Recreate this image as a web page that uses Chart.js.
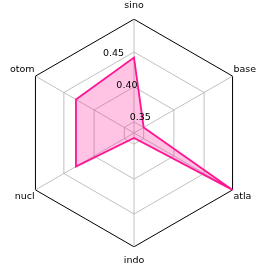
<!DOCTYPE html>
<html>
<head>
<meta charset="utf-8">
<script src="https://cdn.jsdelivr.net/npm/chart.js@4/dist/chart.umd.min.js"></script>
<style>
  html, body { margin: 0; padding: 0; background: #ffffff; }
  #wrap { width: 266px; height: 266px; }
</style>
</head>
<body>
<div id="wrap"><canvas id="radar"></canvas></div>
<script>
const categories = ["sino", "base", "atla", "indo", "nucl", "otom"];
const values = [0.442, 0.350, 0.497, 0.341, 0.430, 0.430];
const tickValues = [0.35, 0.40, 0.45];
const rMin = 0.334;
const rMax = 0.497;

Chart.defaults.font.family = "'DejaVu Sans', sans-serif";
Chart.defaults.font.size = 9.5;
Chart.defaults.color = "#000000";

// tick labels sit along a ray 22.5 deg left of the top axis
const rLabels = {
    id: "rLabels",
    afterDatasetsDraw(chart) {
        const scale = chart.scales.r;
        const ctx = chart.ctx;
        ctx.save();
        ctx.font = "9.5px 'DejaVu Sans', sans-serif";
        ctx.fillStyle = "#000000";
        ctx.textAlign = "left";
        ctx.textBaseline = "bottom";
        tickValues.forEach(v => {
            const d = scale.getDistanceFromCenterForValue(v);
            const p = scale.getPointPosition(0, d, -Math.PI / 8);
            ctx.fillText(v.toFixed(2), p.x, p.y);
        });
        ctx.restore();
    }
};

new Chart(document.getElementById("radar"), {
    type: "radar",
    data: {
        labels: categories,
        datasets: [
            {
                label: "value",
                data: values,
                borderColor: "#ff1493",
                backgroundColor: "rgba(255, 20, 147, 0.25)",
                borderWidth: 1.8,
                pointRadius: 0,
                fill: true,
            }
        ]
    },
    options: {
        responsive: true,
        maintainAspectRatio: false,
        animation: false,
        layout: { padding: 0 },
        plugins: {
            legend: { display: false },
            tooltip: { enabled: false }
        },
        scales: {
            r: {
                min: rMin,
                max: rMax,
                afterBuildTicks: (axis) => {
                    axis.ticks = [rMin, ...tickValues, rMax].map(v => ({ value: v }));
                },
                ticks: { display: false },
                grid: {
                    color: (c) => c.index === tickValues.length + 1 ? "#000000" : "#b0b0b0",
                    lineWidth: (c) => c.index === tickValues.length + 1 ? 1 : 0.8,
                },
                angleLines: { color: "#b0b0b0", lineWidth: 0.8 },
                pointLabels: {
                    color: "#000000",
                    font: { size: 9.5 },
                    padding: (c) => (c.index === 0 || c.index === 3) ? 7.8 : 1,
                }
            }
        }
    },
    plugins: [rLabels]
});
</script>
</body>
</html>
